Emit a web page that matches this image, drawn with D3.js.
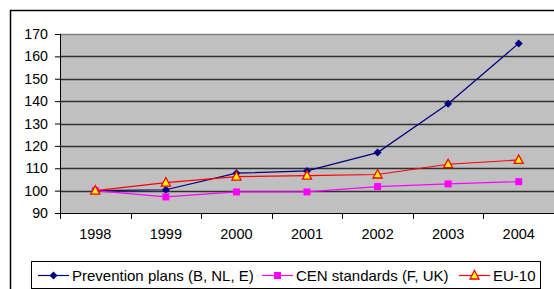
<!DOCTYPE html>
<html>
<head>
<meta charset="utf-8">
<script src="https://cdn.jsdelivr.net/npm/d3@7"></script>
<style>
  body { margin: 0; background: #fff; }
  text { font-family: "Liberation Sans", Arial, sans-serif; }
</style>
</head>
<body>
<svg width="554" height="289"></svg>
<script>
var years = ["1998", "1999", "2000", "2001", "2002", "2003", "2004"];
var yTicks = [90, 100, 110, 120, 130, 140, 150, 160, 170];
var prevention = [100, 100.4, 107.8, 108.8, 117, 138.8, 165.8];
var cen = [100, 97.2, 99.4, 99.4, 101.8, 103, 104];
var eu10 = [100, 103.6, 106.3, 106.7, 107.2, 111.8, 113.7];
var seriesNames = ["Prevention plans (B, NL, E)", "CEN standards (F, UK)", "EU-10"];

var svg = d3.select("svg");

var margins = { top: 34, left: 60, right: 0, bottom: 76 };
var width = 554 - margins.left - margins.right;
var height = 289 - margins.top - margins.bottom;

// outer chart frame (runs off the right/bottom edge)
svg.append("rect")
   .attr("x", 10.5).attr("y", 10.5)
   .attr("width", 600).attr("height", 300)
   .attr("fill", "#fff")
   .attr("stroke", "#000")
   .attr("stroke-width", 1.5);

var xScale = d3.scaleBand().domain(years).range([0, width]);
var yScale = d3.scaleLinear().domain([90, 170]).range([height, 0]);

var plot = svg.append("g")
   .attr("transform", "translate(" + margins.left + "," + margins.top + ")");

plot.append("rect")
   .attr("width", width).attr("height", height)
   .attr("fill", "#c0c0c0");

// gridlines
plot.selectAll(".grid")
   .data(yTicks.slice(1))
   .enter().append("line")
   .attr("x1", 0).attr("x2", width)
   .attr("y1", function(d) { return Math.round(yScale(d)) + 0.5; })
   .attr("y2", function(d) { return Math.round(yScale(d)) + 0.5; })
   .attr("stroke", function(d) { return d == 170 ? "#808080" : "#303030"; })
   .attr("stroke-width", 1.3);

// y axis
var yAxis = plot.append("g")
   .call(d3.axisLeft(yScale).tickValues(yTicks).tickSize(5).tickPadding(7));
yAxis.selectAll("text").attr("font-size", 14.2).attr("fill", "#000");
yAxis.selectAll("line").attr("stroke", "#000");
yAxis.select(".domain").attr("stroke", "#000").attr("d", "M0.5,0V" + height);

// x axis with ticks between categories
var xAxis = plot.append("g")
   .attr("transform", "translate(0," + height + ")")
   .call(d3.axisBottom(xScale).tickSize(0).tickPadding(16));
xAxis.selectAll("text").attr("font-size", 14.5).attr("fill", "#000");
xAxis.select(".domain").attr("stroke", "#000").attr("d", "M0,0.5H" + width);
xAxis.selectAll(".sep")
   .data(years)
   .enter().append("line")
   .attr("x1", function(d) { return Math.round(xScale(d)) + 0.5; })
   .attr("x2", function(d) { return Math.round(xScale(d)) + 0.5; })
   .attr("y1", 0).attr("y2", 6)
   .attr("stroke", "#000");

var line = d3.line()
   .x(function(d, i) { return xScale(years[i]) + xScale.bandwidth() / 2; })
   .y(function(d) { return yScale(d); });

var series = [
  { values: prevention, color: "#000080", marker: "diamond" },
  { values: cen, color: "#ff00ff", marker: "square" },
  { values: eu10, color: "#ff0000", marker: "triangle" }
];

function drawMarker(g, type, color) {
  if (type == "diamond") {
    g.append("path").attr("d", "M0,-4L4,0L0,4L-4,0Z").attr("fill", color);
  } else if (type == "square") {
    g.append("rect").attr("x", -3.5).attr("y", -3.5).attr("width", 7).attr("height", 7).attr("fill", color);
  } else {
    g.append("path").attr("d", "M0,-5L4.5,3.5L-4.5,3.5Z")
     .attr("fill", "#ffff00").attr("stroke", color).attr("stroke-width", 1.3);
  }
}

series.forEach(function(s) {
  plot.append("path")
     .datum(s.values)
     .attr("d", line)
     .attr("fill", "none")
     .attr("stroke", s.color)
     .attr("stroke-width", 1.2);
});
series.forEach(function(s) {
  s.values.forEach(function(v, i) {
    var g = plot.append("g")
       .attr("transform", "translate(" + (xScale(years[i]) + xScale.bandwidth() / 2) + "," + yScale(v) + ")");
    drawMarker(g, s.marker, s.color);
  });
});

// legend
var legend = svg.append("g");
legend.append("rect")
   .attr("x", 31.5).attr("y", 261.5)
   .attr("width", 509).attr("height", 27)
   .attr("fill", "#fff").attr("stroke", "#000");

var legendX = [38, 262, 459];
series.forEach(function(s, i) {
  var g = legend.append("g").attr("transform", "translate(" + legendX[i] + ",275.5)");
  g.append("line").attr("x1", 0).attr("x2", 31).attr("stroke", s.color).attr("stroke-width", 1.2);
  var m = g.append("g").attr("transform", "translate(15.5,0)");
  drawMarker(m, s.marker, s.color);
  g.append("text").attr("x", 34).attr("y", 5.3).attr("font-size", 15).text(seriesNames[i]);
});
</script>
</body>
</html>
